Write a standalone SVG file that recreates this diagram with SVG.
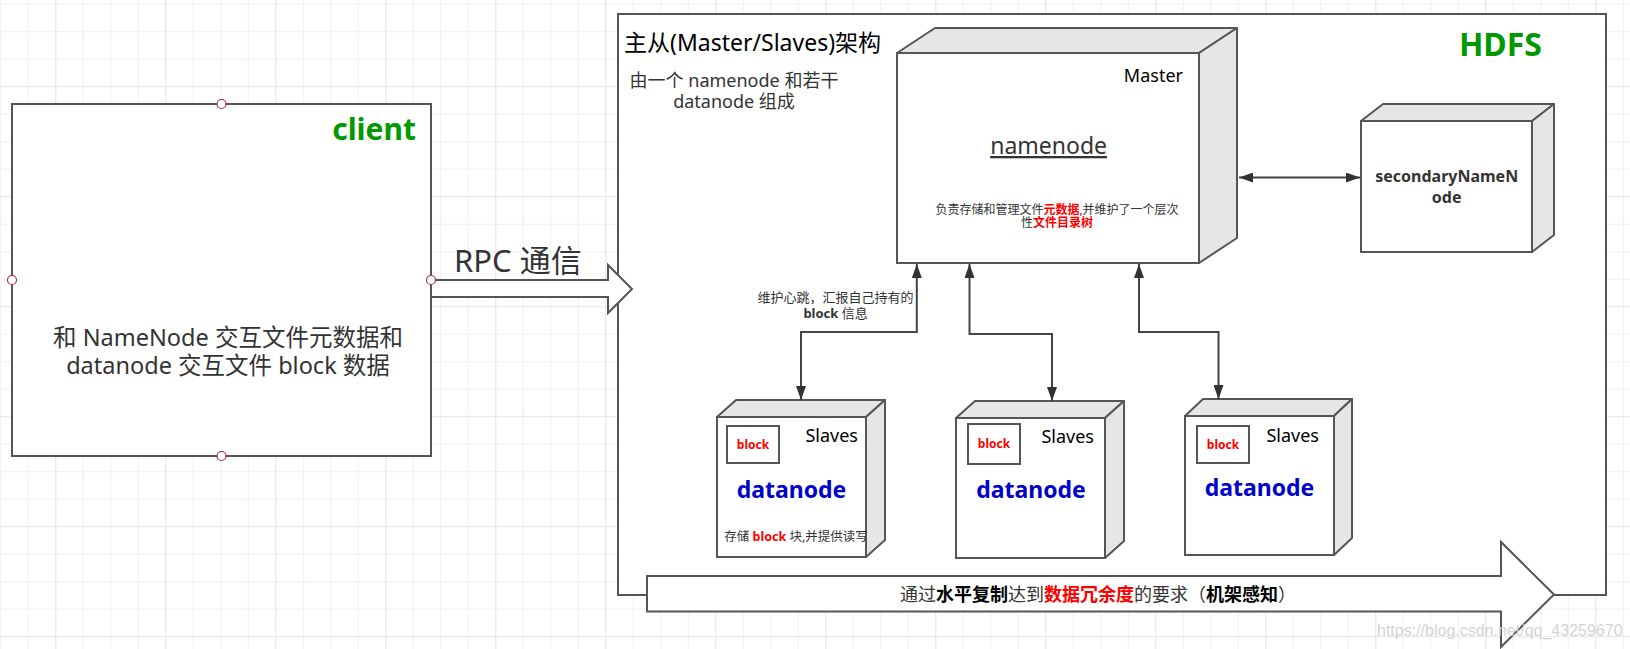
<svg xmlns="http://www.w3.org/2000/svg" width="1630" height="649" viewBox="0 0 1630 649">
<defs>
<style>
.t{font-family:"Noto Sans","Noto Sans CJK SC",sans-serif;fill:#333}
.b{font-weight:bold}
.red{fill:#ff0000;font-weight:bold}
.box{fill:#fff;stroke:#555;stroke-width:2}
.shade{fill:#e6e6e6;stroke:#555;stroke-width:2;stroke-linejoin:round}
.conn{fill:none;stroke:#444;stroke-width:2}
.blk{fill:#fff;stroke:#555;stroke-width:2}
.dn{fill:#0000cc;font-weight:bold;font-size:23px}
.sl{fill:#000;font-size:18px}
.cp{fill:#fff;stroke:#a33;stroke-width:1.2}
</style>
<pattern id="grid" patternUnits="userSpaceOnUse" x="42.05" y="72.95" width="110" height="110">
<rect x="40.75" y="0" width="1" height="110" fill="#f0f0f0"/>
<rect x="68.25" y="0" width="1" height="110" fill="#f0f0f0"/>
<rect x="95.75" y="0" width="1" height="110" fill="#f0f0f0"/>
<rect x="0" y="40.75" width="110" height="1" fill="#f0f0f0"/>
<rect x="0" y="68.25" width="110" height="1" fill="#f0f0f0"/>
<rect x="0" y="95.75" width="110" height="1" fill="#f0f0f0"/>
<rect x="13.25" y="0" width="1" height="110" fill="#e4e4e4"/>
<rect x="0" y="13.25" width="110" height="1" fill="#e4e4e4"/>
</pattern>
<marker id="ah" markerUnits="userSpaceOnUse" viewBox="0 0 14 10" markerWidth="14" markerHeight="10" refX="14" refY="5" orient="auto-start-reverse">
<path d="M0,0 L14,5 L0,10 z" fill="#333"/>
</marker>
</defs>
<rect x="0" y="0" width="1630" height="649" fill="#fff"/>
<rect x="0" y="0" width="1630" height="649" fill="url(#grid)"/>

<g id="client">
<rect class="box" x="12" y="104" width="419" height="352"/>
<text class="t b" x="416" y="140" font-size="30" text-anchor="end" style="fill:#009900">client</text>
<text class="t" x="228" y="346" font-size="23.5" text-anchor="middle">和 NameNode 交互文件元数据和</text>
<text class="t" x="228" y="374" font-size="23.5" text-anchor="middle">datanode 交互文件 block 数据</text>
</g>

<g id="hdfs">
<rect class="box" x="618" y="14" width="988" height="581"/>
<text class="t b" x="1542" y="56" font-size="32" text-anchor="end" style="fill:#009900">HDFS</text>
<text class="t" x="624" y="51" font-size="23" style="fill:#000">主从(Master/Slaves)架构</text>
<text class="t" x="734" y="86.5" font-size="18" text-anchor="middle">由一个 namenode 和若干</text>
<text class="t" x="734" y="108" font-size="18" text-anchor="middle">datanode 组成</text>
</g>

<g id="namenode">
<polygon class="shade" points="897,53 935,28 1237,28 1199,53"/>
<polygon class="shade" points="1199,53 1237,28 1237,238 1199,263"/>
<rect class="box" x="897" y="53" width="302" height="210"/>
<text class="t" x="1183" y="82" font-size="18" text-anchor="end" style="fill:#000">Master</text>
<text class="t" x="1048.6" y="154" font-size="23" text-anchor="middle" text-decoration="underline">namenode</text>
<text class="t" x="1057" y="213.5" font-size="12" text-anchor="middle">负责存储和管理文件<tspan class="red">元数据</tspan>,并维护了一个层次</text>
<text class="t" x="1057" y="227" font-size="12" text-anchor="middle">性<tspan class="red">文件目录树</tspan></text>
</g>

<g id="secondaryNameNode">
<polygon class="shade" points="1361,121 1383,104 1554,104 1532,121"/>
<polygon class="shade" points="1532,121 1554,104 1554,235 1532,252"/>
<rect class="box" x="1361" y="121" width="171" height="131"/>
<text class="t b" x="1446.7" y="182.3" font-size="16" text-anchor="middle">secondaryNameN</text>
<text class="t b" x="1446.7" y="203" font-size="16" text-anchor="middle">ode</text>
</g>

<g id="datanode1">
<polygon class="shade" points="717,417 736,400 885,400 866,417"/>
<polygon class="shade" points="866,417 885,400 885,540 866,557"/>
<rect class="box" x="717" y="417" width="149" height="140"/>
<rect class="blk" x="727" y="426" width="52" height="37"/>
<text class="t red" x="753" y="448.7" font-size="12" text-anchor="middle">block</text>
<text class="t sl" x="858" y="442" text-anchor="end">Slaves</text>
<text class="t dn" x="791.5" y="498" text-anchor="middle">datanode</text>
<text class="t" x="796" y="540.5" font-size="12.5" text-anchor="middle">存储 <tspan class="red">block</tspan> 块,并提供读写</text>
</g>

<g id="datanode2">
<polygon class="shade" points="956,418 975,401 1124,401 1105,418"/>
<polygon class="shade" points="1105,418 1124,401 1124,541 1105,558"/>
<rect class="box" x="956" y="418" width="149" height="140"/>
<rect class="blk" x="968" y="424" width="52" height="40"/>
<text class="t red" x="994" y="448.2" font-size="12" text-anchor="middle">block</text>
<text class="t sl" x="1094" y="443" text-anchor="end">Slaves</text>
<text class="t dn" x="1031" y="498" text-anchor="middle">datanode</text>
</g>

<g id="datanode3">
<polygon class="shade" points="1185,416 1203,399 1352,399 1334,416"/>
<polygon class="shade" points="1334,416 1352,399 1352,538 1334,555"/>
<rect class="box" x="1185" y="416" width="149" height="139"/>
<rect class="blk" x="1197" y="426" width="52" height="37"/>
<text class="t red" x="1223" y="448.7" font-size="12" text-anchor="middle">block</text>
<text class="t sl" x="1319" y="441.5" text-anchor="end">Slaves</text>
<text class="t dn" x="1259.5" y="495.5" text-anchor="middle">datanode</text>
</g>

<g id="replication">
<polygon class="box" points="647,576 1501,576 1501,542 1554,594.5 1501,647 1501,611.5 647,611.5"/>
<text class="t" x="1098" y="600.5" font-size="18" text-anchor="middle">通过<tspan class="b" style="fill:#000">水平复制</tspan>达到<tspan class="red">数据冗余度</tspan>的要求（<tspan class="b" style="fill:#000">机架感知</tspan>）</text>
</g>

<g id="connectors">
<polygon class="box" points="431,280 608,280 608,265 632,289 608,313 608,297 431,297"/>
<text class="t" x="454" y="272" font-size="31">RPC 通信</text>
<path class="conn" d="M916.8,264 V332 H801 V400" marker-start="url(#ah)" marker-end="url(#ah)"/>
<path class="conn" d="M969.5,264 V334 H1052 V401" marker-start="url(#ah)" marker-end="url(#ah)"/>
<path class="conn" d="M1139,264 V332 H1218.5 V399" marker-start="url(#ah)" marker-end="url(#ah)"/>
<path class="conn" d="M1239,177.5 H1360" marker-start="url(#ah)" marker-end="url(#ah)"/>
<text class="t" x="835.6" y="302" font-size="13" text-anchor="middle">维护心跳，汇报自己持有的</text>
<text class="t" x="835.6" y="318" font-size="13" text-anchor="middle"><tspan class="b">block</tspan> 信息</text>
</g>

<g id="handles">
<circle class="cp" cx="221.5" cy="104" r="4.5"/>
<circle class="cp" cx="12" cy="280" r="4.5"/>
<circle class="cp" cx="431" cy="280" r="4.5"/>
<circle class="cp" cx="221.5" cy="456" r="4.5"/>
</g>

<text x="1377" y="636" font-family="Liberation Sans, sans-serif" font-size="16" fill="#d4d4d4">https://blog.csdn.net/qq_43259670</text>
</svg>
